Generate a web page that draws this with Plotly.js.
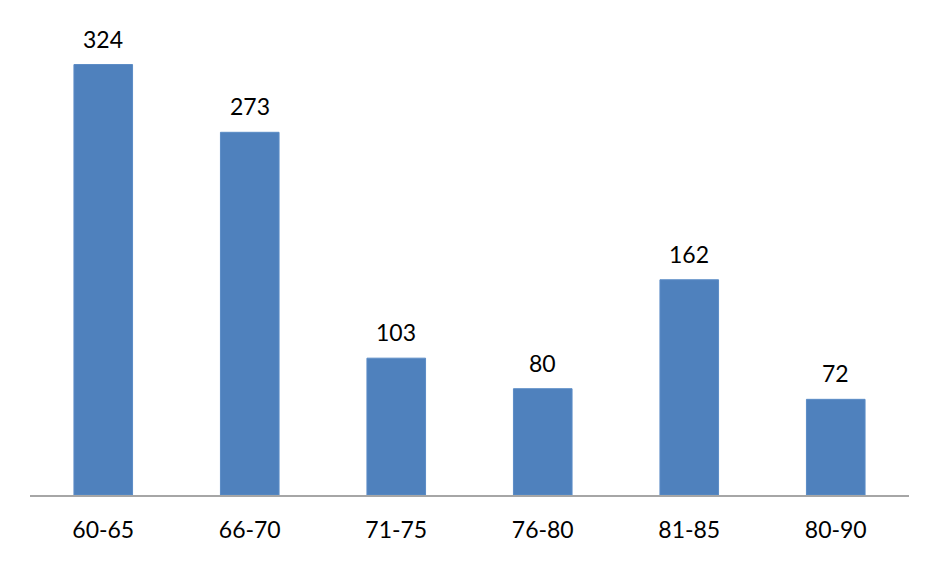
<!DOCTYPE html>
<html><head><meta charset="utf-8">
<script src="https://cdn.plot.ly/plotly-3.0.1.min.js"></script>
<style>body{margin:0;background:#fff}#c{width:938px;height:563px}</style>
</head><body><div id="c"></div>
<script>
var categories = ["60-65","66-70","71-75","76-80","81-85","80-90"];
var values = [324, 273, 103, 80, 162, 72];
var FONT = "Lato, 'Open Sans', 'Liberation Sans', sans-serif";

var annotations = categories.map(function(c, i){
  return {x: c, y: values[i], xref: "x", yref: "y", text: String(values[i]),
    showarrow: false, yanchor: "bottom", yshift: 10,
    font: {family: FONT, size: 23, color: "#000"}};
});

Plotly.newPlot("c", [{
  type: "bar", x: categories, y: values,
  marker: {color: "#4F81BD", line: {color: "#5B8CC6", width: 1}},
  hoverinfo: "none"
}], {
  width: 938, height: 563,
  margin: {l: 30, r: 29, t: 30, b: 68},
  paper_bgcolor: "#fff", plot_bgcolor: "#fff",
  bargap: 0.6,
  showlegend: false,
  xaxis: {type: "category", showline: true, linecolor: "#a6a6a6", linewidth: 1.5,
    ticks: "", showgrid: false, zeroline: false,
    tickfont: {family: FONT, size: 23, color: "#000"}, ticklabelstandoff: 14},
  yaxis: {range: [0, 350], visible: false, showgrid: false, zeroline: false},
  annotations: annotations
}, {staticPlot: true});
</script></body></html>
